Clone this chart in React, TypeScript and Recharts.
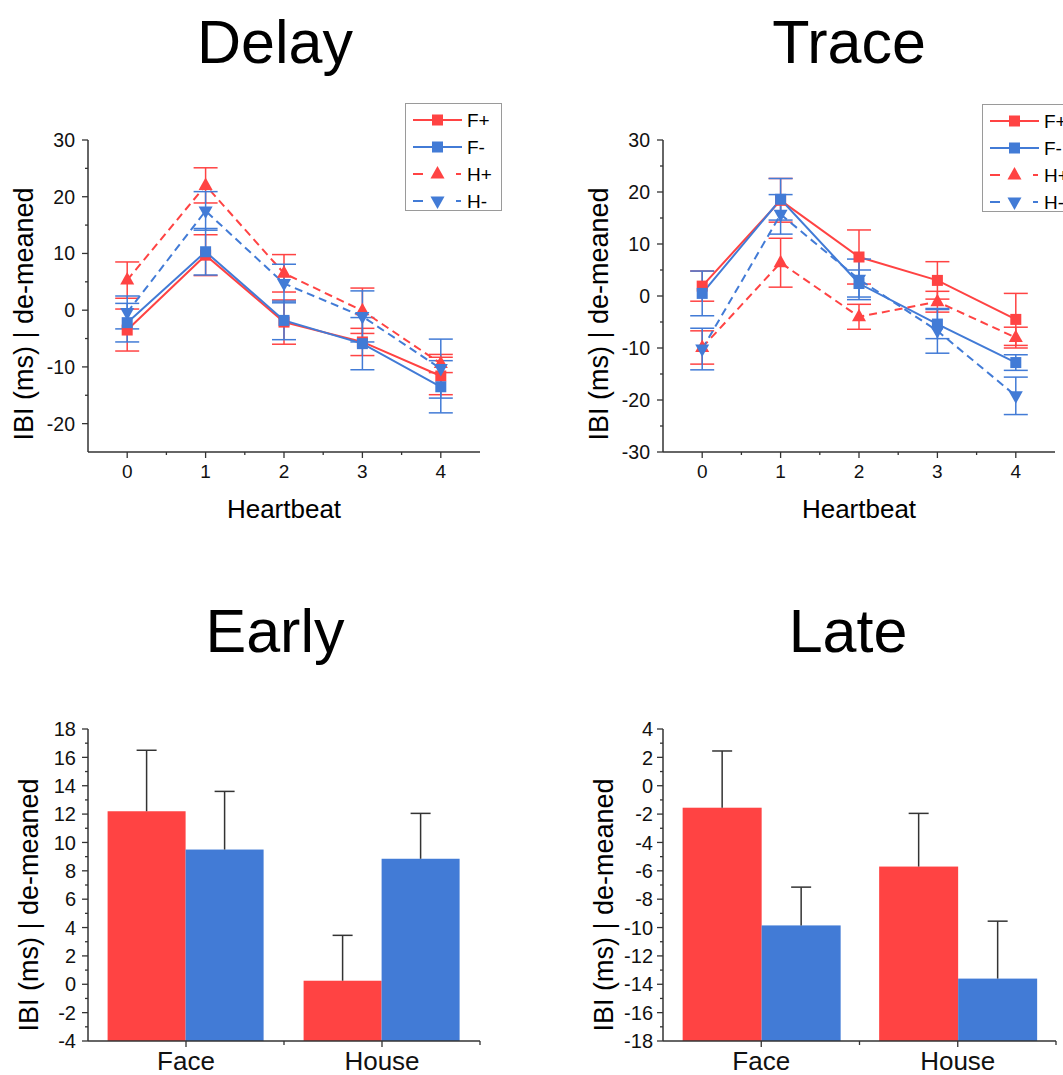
import React from 'react';
import { LineChart, Line, XAxis, YAxis, ErrorBar, Legend, BarChart, Bar } from 'recharts';

const FONT = '"Liberation Sans", Arial, Helvetica, sans-serif';
const RED = '#FF4343';
const BLUE = '#427BD6';
const AXIS = '#333333';

// ---------- Line charts (Delay / Trace) ----------
const heartbeats = [0, 1, 2, 3, 4];
const beatTickLabels = [0, 1, 2, 3, 4];
const beatMinorTicks = [0.5, 1.5, 2.5, 3.5];

const delayFPlus = [-3.5, 9.7, -2.1, -5.6, -11.6];
const delayFPlusErr = [3.7, 3.6, 3.9, 2.4, 3.3];
const delayFMinus = [-2.2, 10.3, -1.8, -5.9, -13.5];
const delayFMinusErr = [3.4, 4.1, 3.4, 4.6, 4.6];
const delayHPlus = [5.3, 22.0, 6.5, -0.1, -9.4];
const delayHPlusErr = [3.2, 3.1, 3.3, 4.0, 1.6];
const delayHMinus = [-0.4, 17.5, 4.7, -1.1, -10.3];
const delayHMinusErr = [2.9, 3.4, 3.4, 4.5, 5.2];

const traceFPlus = [1.9, 18.4, 7.5, 3.0, -4.5];
const traceFPlusErr = [2.9, 4.2, 5.2, 3.6, 5.0];
const traceFMinus = [0.5, 18.6, 2.4, -5.4, -12.8];
const traceFMinusErr = [4.3, 4.0, 2.6, 2.8, 1.5];
const traceHPlus = [-9.9, 6.4, -4.0, -1.1, -8.0];
const traceHPlusErr = [3.2, 4.7, 2.4, 2.0, 2.0];
const traceHMinus = [-10.2, 15.7, 3.2, -6.7, -19.2];
const traceHMinusErr = [4.0, 3.8, 3.9, 4.3, 3.6];

const delayYTickLabels = [-20, -10, 0, 10, 20, 30];
const delayYMinorTicks = [-15, -5, 5, 15, 25];
const traceYTickLabels = [-30, -20, -10, 0, 10, 20, 30];
const traceYMinorTicks = [-25, -15, -5, 5, 15, 25];

const legendLabels = ['F+', 'F-', 'H+', 'H-'];

// ---------- Bar charts (Early / Late) ----------
const barCategories = ['Face', 'House'];
const earlyRed = [12.2, 0.25];
const earlyRedErr = [4.3, 3.2];
const earlyBlue = [9.5, 8.85];
const earlyBlueErr = [4.1, 3.2];
const lateRed = [-1.55, -5.7];
const lateRedErr = [4.0, 3.75];
const lateBlue = [-9.85, -13.6];
const lateBlueErr = [2.7, 4.05];

const earlyYTickLabels = [-4, -2, 0, 2, 4, 6, 8, 10, 12, 14, 16, 18];
const earlyYMinorTicks = [-3, -1, 1, 3, 5, 7, 9, 11, 13, 15, 17];
const lateYTickLabels = [-18, -16, -14, -12, -10, -8, -6, -4, -2, 0, 2, 4];
const lateYMinorTicks = [-17, -15, -13, -11, -9, -7, -5, -3, -1, 1, 3];

const titles = ['Delay', 'Trace', 'Early', 'Late'];
const yAxisTitle = 'IBI (ms) | de-meaned';
const xAxisTitle = 'Heartbeat';

// ---------- builders ----------
function buildLineData(
  fp: number[], fpe: number[], fm: number[], fme: number[],
  hp: number[], hpe: number[], hm: number[], hme: number[]
) {
  return heartbeats.map((b, i) => ({
    beat: b,
    fp: fp[i], fpErr: fpe[i],
    fm: fm[i], fmErr: fme[i],
    hp: hp[i], hpErr: hpe[i],
    hm: hm[i], hmErr: hme[i],
  }));
}

function buildBarData(red: number[], redErr: number[], blue: number[], blueErr: number[], min: number) {
  return barCategories.map((c, i) => ({
    cat: c,
    red: [min, red[i]], redVal: red[i], redErr: redErr[i],
    blue: [min, blue[i]], blueVal: blue[i], blueErr: blueErr[i],
  }));
}

const sortNum = (a: number[]) => [...a].sort((x, y) => x - y);

const delayData = buildLineData(delayFPlus, delayFPlusErr, delayFMinus, delayFMinusErr, delayHPlus, delayHPlusErr, delayHMinus, delayHMinusErr);
const traceData = buildLineData(traceFPlus, traceFPlusErr, traceFMinus, traceFMinusErr, traceHPlus, traceHPlusErr, traceHMinus, traceHMinusErr);
const earlyData = buildBarData(earlyRed, earlyRedErr, earlyBlue, earlyBlueErr, -4);
const lateData = buildBarData(lateRed, lateRedErr, lateBlue, lateBlueErr, -18);

// ---------- marks ----------
function markerShape(kind: string, cx: number, cy: number, color: string, key?: any) {
  if (kind === 'square') {
    return <rect key={key} x={cx - 5.5} y={cy - 5.5} width={11} height={11} fill={color} />;
  }
  if (kind === 'up') {
    return <polygon key={key} points={`${cx},${cy - 8} ${cx + 7},${cy + 4.5} ${cx - 7},${cy + 4.5}`} fill={color} />;
  }
  return <polygon key={key} points={`${cx - 7},${cy - 4.5} ${cx + 7},${cy - 4.5} ${cx},${cy + 8}`} fill={color} />;
}

const makeDot = (kind: string, color: string) => (p: any) => {
  if (p.cx == null || p.cy == null) return <g key={`n-${p.index}`} />;
  return markerShape(kind, p.cx, p.cy, color, `d-${kind}-${p.index}`);
};

const seriesDefs = [
  { key: 'fp', color: RED, dashed: false, kind: 'square' },
  { key: 'fm', color: BLUE, dashed: false, kind: 'square' },
  { key: 'hp', color: RED, dashed: true, kind: 'up' },
  { key: 'hm', color: BLUE, dashed: true, kind: 'down' },
];

function makeYTick(labels: number[], gap: number, fontSize: number) {
  return (p: any) => {
    const v = p.payload.value;
    const major = labels.includes(v);
    return (
      <g>
        <line x1={p.x} x2={p.x - (major ? 6 : 3)} y1={p.y} y2={p.y} stroke={AXIS} strokeWidth={1.3} />
        {major && (
          <text x={p.x - gap} y={p.y} dy="0.36em" textAnchor="end" fontSize={fontSize} fontFamily={FONT} fill="#111">
            {v}
          </text>
        )}
      </g>
    );
  };
}

function makeNumXTick(labels: number[], fontSize: number) {
  return (p: any) => {
    const v = p.payload.value;
    const major = labels.includes(v);
    return (
      <g>
        <line x1={p.x} x2={p.x} y1={p.y} y2={p.y + (major ? 6 : 3)} stroke={AXIS} strokeWidth={1.3} />
        {major && (
          <text x={p.x} y={p.y + 26} textAnchor="middle" fontSize={fontSize} fontFamily={FONT} fill="#111">
            {v}
          </text>
        )}
      </g>
    );
  };
}

const catXTick = (p: any) => {
  const off = p.payload && typeof p.payload.offset === 'number' ? p.payload.offset : 0;
  return (
    <g>
      <line x1={p.x} x2={p.x} y1={p.y} y2={p.y + 6} stroke={AXIS} strokeWidth={1.3} />
      {off > 0 && <line x1={p.x + off} x2={p.x + off} y1={p.y} y2={p.y + 4} stroke={AXIS} strokeWidth={1.3} />}
      <text x={p.x} y={p.y + 29} textAnchor="middle" fontSize={26} fontFamily={FONT} fill="#111">
        {p.payload.value}
      </text>
    </g>
  );
};

const makeYLabel = (dx: number, dy: number) => (props: any) => {
  const vb = props.viewBox || {};
  const x = vb.x + vb.width - dx;
  const y = vb.y + vb.height / 2 + dy;
  return (
    <text x={x} y={y} transform={`rotate(-90 ${x} ${y})`} textAnchor="middle" fontSize={27} fontFamily={FONT} fill="#000">
      {yAxisTitle}
    </text>
  );
};

const xLabel = (props: any) => {
  const vb = props.viewBox || {};
  return (
    <text x={vb.x + vb.width / 2} y={vb.y + 66} textAnchor="middle" fontSize={26} fontFamily={FONT} fill="#000">
      {xAxisTitle}
    </text>
  );
};

const LegendBox = () => (
  <svg width={97} height={108} style={{ display: 'block', overflow: 'visible' }}>
    <rect x={0.5} y={0.5} width={96} height={107} fill="#fff" stroke="#9a9a9a" strokeWidth={1} />
    {seriesDefs.map((s, i) => {
      const cy = 17 + i * 27;
      return (
        <g key={s.key}>
          {s.dashed ? (
            <g>
              <line x1={8} x2={18} y1={cy} y2={cy} stroke={s.color} strokeWidth={2} />
              <line x1={51} x2={56} y1={cy} y2={cy} stroke={s.color} strokeWidth={2} />
            </g>
          ) : (
            <line x1={8} x2={57} y1={cy} y2={cy} stroke={s.color} strokeWidth={2} />
          )}
          {markerShape(s.kind, 32.5, cy, s.color)}
          <text x={62} y={cy} dy="0.36em" fontSize={19} fontFamily={FONT} fill="#000">
            {legendLabels[i]}
          </text>
        </g>
      );
    })}
  </svg>
);

function LinePanel(props: {
  data: any[]; yDomain: [number, number]; yLabels: number[]; yMinor: number[]; legendLeft: number; legendTop: number;
}) {
  const { data, yDomain, yLabels, yMinor, legendLeft, legendTop } = props;
  return (
    <LineChart width={531} height={540} data={data} margin={{ top: 140, left: 28, right: 51, bottom: 58 }}>
      <XAxis
        type="number"
        dataKey="beat"
        domain={[-0.5, 4.5]}
        ticks={sortNum([...beatTickLabels, ...beatMinorTicks])}
        interval={0}
        height={30}
        tickSize={0}
        tickMargin={0}
        tickLine={false}
        axisLine={{ stroke: AXIS, strokeWidth: 1.5 }}
        tick={makeNumXTick(beatTickLabels, 19)}
        label={{ content: xLabel }}
        allowDataOverflow
      />
      <YAxis
        type="number"
        domain={yDomain}
        ticks={sortNum([...yLabels, ...yMinor])}
        interval={0}
        width={60}
        tickSize={0}
        tickMargin={0}
        tickLine={false}
        axisLine={{ stroke: AXIS, strokeWidth: 1.5 }}
        tick={makeYTick(yLabels, 13, 19.5)}
        label={{ content: makeYLabel(55, 18) }}
        allowDataOverflow
      />
      <Legend
        layout="vertical"
        verticalAlign="middle"
        align="center"
        wrapperStyle={{ left: legendLeft, top: legendTop, width: 97, height: 108 }}
        content={() => <LegendBox />}
      />
      {seriesDefs.map((s) => (
        <Line
          key={s.key}
          type="linear"
          dataKey={s.key}
          name={s.key}
          stroke={s.color}
          strokeWidth={2}
          strokeDasharray={s.dashed ? '8 5' : undefined}
          dot={makeDot(s.kind, s.color)}
          activeDot={false}
          isAnimationActive={false}
        >
          <ErrorBar dataKey={`${s.key}Err`} direction="y" width={12} stroke={s.color} strokeWidth={1.5} isAnimationActive={false} />
        </Line>
      ))}
    </LineChart>
  );
}

const makeBarShape = (valKey: string, errKey: string, min: number) => (p: any) => {
  const { x, y, width, height, fill, payload } = p;
  const v = payload[valKey];
  const e = payload[errKey];
  const ppu = height / (v - min);
  const cx = x + width / 2;
  const top = y - e * ppu;
  return (
    <g>
      <rect x={x} y={y} width={width} height={height} fill={fill} />
      <line x1={cx} x2={cx} y1={y} y2={top} stroke={AXIS} strokeWidth={1.5} />
      <line x1={cx - 10} x2={cx + 10} y1={top} y2={top} stroke={AXIS} strokeWidth={1.5} />
    </g>
  );
};

function BarPanel(props: {
  data: any[]; width: number; right: number; yDomain: [number, number]; yLabels: number[]; yMinor: number[]; gap: number; min: number;
}) {
  const { data, width, right, yDomain, yLabels, yMinor, gap, min } = props;
  return (
    <BarChart
      width={width}
      height={515}
      data={data}
      margin={{ top: 169, left: 28, right, bottom: 4 }}
      barGap={0}
      barCategoryGap="10%"
    >
      <XAxis
        type="category"
        dataKey="cat"
        interval={0}
        height={30}
        tickSize={0}
        tickMargin={0}
        tickLine={false}
        axisLine={{ stroke: AXIS, strokeWidth: 1.5 }}
        tick={catXTick}
      />
      <YAxis
        type="number"
        domain={yDomain}
        ticks={sortNum([...yLabels, ...yMinor])}
        interval={0}
        width={60}
        tickSize={0}
        tickMargin={0}
        tickLine={false}
        axisLine={{ stroke: AXIS, strokeWidth: 1.5 }}
        tick={makeYTick(yLabels, gap, 20)}
        label={{ content: makeYLabel(50, 20) }}
        allowDataOverflow
      />
      <Bar dataKey="red" fill={RED} shape={makeBarShape('redVal', 'redErr', min)} isAnimationActive={false} />
      <Bar dataKey="blue" fill={BLUE} shape={makeBarShape('blueVal', 'blueErr', min)} isAnimationActive={false} />
    </BarChart>
  );
}

export default function App() {
  return (
    <div style={{ position: 'absolute', left: 0, top: 0, width: 1063, height: 1075, overflow: 'hidden', background: '#fff', fontFamily: FONT }}>
      <svg width={1063} height={1075} style={{ position: 'absolute', left: 0, top: 0 }}>
        <text x={275} y={63} textAnchor="middle" fontSize={61} fontFamily={FONT} fill="#000">{titles[0]}</text>
        <text x={849} y={63} textAnchor="middle" fontSize={61} fontFamily={FONT} fill="#000">{titles[1]}</text>
        <text x={275} y={652} textAnchor="middle" fontSize={61} fontFamily={FONT} fill="#000">{titles[2]}</text>
        <text x={848} y={652} textAnchor="middle" fontSize={61} fontFamily={FONT} fill="#000">{titles[3]}</text>
      </svg>
      <div style={{ position: 'absolute', left: 0, top: 0 }}>
        <LinePanel data={delayData} yDomain={[-25, 30]} yLabels={delayYTickLabels} yMinor={delayYMinorTicks} legendLeft={405} legendTop={103} />
      </div>
      <div style={{ position: 'absolute', left: 575, top: 0 }}>
        <LinePanel data={traceData} yDomain={[-30, 30]} yLabels={traceYTickLabels} yMinor={traceYMinorTicks} legendLeft={407} legendTop={104} />
      </div>
      <div style={{ position: 'absolute', left: 0, top: 560 }}>
        <BarPanel data={earlyData} width={531} right={51} yDomain={[-4, 18]} yLabels={earlyYTickLabels} yMinor={earlyYMinorTicks} gap={12} min={-4} />
      </div>
      <div style={{ position: 'absolute', left: 575, top: 560 }}>
        <BarPanel data={lateData} width={488} right={7} yDomain={[-18, 4]} yLabels={lateYTickLabels} yMinor={lateYMinorTicks} gap={10} min={-18} />
      </div>
    </div>
  );
}
